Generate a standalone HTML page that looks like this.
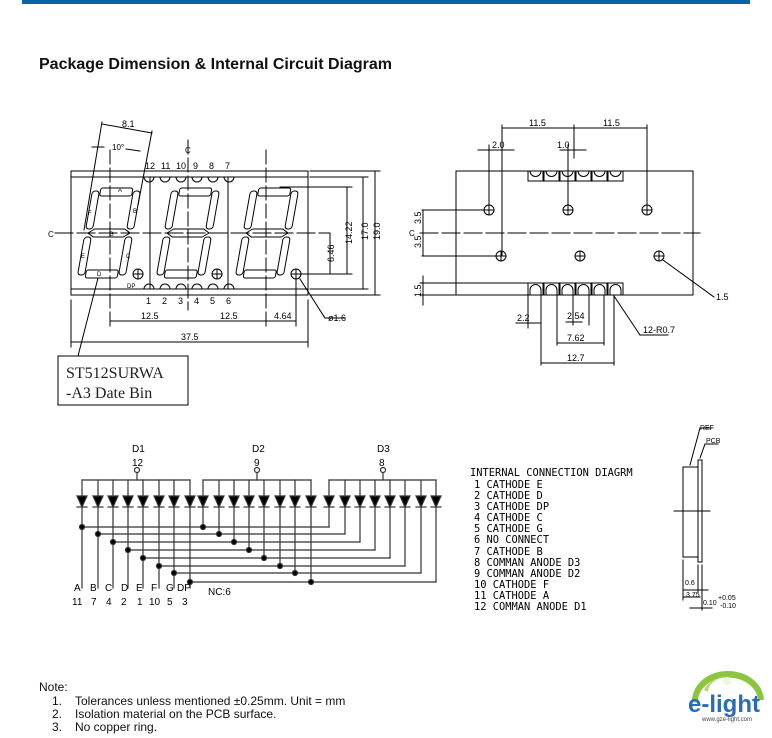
<!DOCTYPE html>
<html><head><meta charset="utf-8"><style>
html,body{margin:0;padding:0;background:#fff;width:772px;height:738px;overflow:hidden}
svg{display:block}
.t{font-family:"Liberation Sans",sans-serif}
.m{font-family:"DejaVu Sans Mono","Liberation Mono",monospace}
</style></head><body>
<svg id="s" width="772" height="738" viewBox="0 0 772 738" xmlns="http://www.w3.org/2000/svg" stroke-linecap="square">
<rect x="22" y="0" width="728" height="4" fill="#0a63a8"/>
<text x="39" y="69" class="t" font-size="16" font-weight="bold" fill="#111">Package Dimension &amp; Internal Circuit Diagram</text>

<g fill="none" stroke="#000" stroke-width="1">
<rect x="71" y="171" width="237" height="124"/>
<line x1="71" y1="177" x2="308" y2="177"/><line x1="71" y1="289" x2="308" y2="289"/>
<line x1="150" y1="177" x2="150" y2="289"/><line x1="228" y1="177" x2="228" y2="289"/>
<line x1="188" y1="140" x2="188" y2="310" stroke-dasharray="14,4"/>
<line x1="55" y1="233" x2="330" y2="233" stroke-dasharray="18,4"/>
<line x1="110" y1="150" x2="110" y2="330" stroke-dasharray="14,4"/>
<line x1="266" y1="150" x2="266" y2="330" stroke-dasharray="14,4"/>
<g id="dig"></g>
<g id="dp"></g>
<line x1="102" y1="124" x2="152" y2="133"/>
<line x1="102" y1="122" x2="84" y2="230"/><line x1="152" y1="131" x2="138" y2="205"/>
<line x1="92" y1="147" x2="104" y2="147"/><line x1="126" y1="149" x2="140" y2="151"/>
<line x1="280" y1="187" x2="352" y2="187"/><line x1="300" y1="274" x2="352" y2="274"/>
<line x1="310" y1="177" x2="368" y2="177"/><line x1="310" y1="289" x2="368" y2="289"/>
<line x1="310" y1="171" x2="380" y2="171"/><line x1="310" y1="295" x2="380" y2="295"/>
<line x1="347" y1="187" x2="347" y2="274"/><line x1="363" y1="177" x2="363" y2="289"/>
<line x1="375" y1="171" x2="375" y2="295"/><line x1="330" y1="233" x2="330" y2="274"/>
<line x1="110" y1="321" x2="296" y2="321"/><line x1="296" y1="280" x2="296" y2="326"/>
<line x1="71" y1="300" x2="71" y2="347"/><line x1="308" y1="300" x2="308" y2="347"/>
<line x1="71" y1="342" x2="308" y2="342"/>
<line x1="300" y1="279" x2="325" y2="318"/><line x1="325" y1="318" x2="345" y2="318"/>
<rect x="58" y="356" width="130" height="49"/>
<line x1="78" y1="356" x2="98" y2="278"/>
<rect x="456" y="171" width="237" height="124"/>
<line x1="420" y1="233" x2="700" y2="233" stroke-dasharray="18,4"/>
<g id="rn"></g>
<line x1="502" y1="128" x2="647" y2="128"/>
<line x1="502" y1="125" x2="502" y2="256"/><line x1="647" y1="125" x2="647" y2="210"/>
<line x1="574" y1="125" x2="574" y2="158"/>
<line x1="489" y1="145" x2="489" y2="210"/><line x1="568" y1="145" x2="568" y2="210"/>
<line x1="478" y1="150" x2="514" y2="150"/><line x1="560" y1="150" x2="586" y2="150"/>
<line x1="422" y1="210" x2="484" y2="210"/><line x1="422" y1="256" x2="496" y2="256"/>
<line x1="423" y1="210" x2="423" y2="256"/>
<line x1="420" y1="283" x2="528" y2="283"/><line x1="420" y1="295" x2="456" y2="295"/>
<line x1="423" y1="276" x2="423" y2="305"/>
<line x1="528" y1="295" x2="528" y2="328"/><line x1="541" y1="295" x2="541" y2="365"/>
<line x1="557" y1="295" x2="557" y2="345"/><line x1="573" y1="295" x2="573" y2="325"/>
<line x1="589" y1="295" x2="589" y2="325"/><line x1="604" y1="295" x2="604" y2="345"/>
<line x1="614" y1="295" x2="614" y2="365"/>
<line x1="516" y1="323" x2="541" y2="323"/><line x1="566" y1="322" x2="582" y2="322"/>
<line x1="557" y1="343" x2="604" y2="343"/><line x1="541" y1="363" x2="614" y2="363"/>
<line x1="614" y1="296" x2="640" y2="335"/><line x1="640" y1="335" x2="668" y2="335"/>
<line x1="663" y1="260" x2="714" y2="297"/>
<rect x="683" y="467" width="15" height="90"/>
<rect x="698" y="460" width="4" height="102"/>
<line x1="674" y1="511" x2="710" y2="511"/>
<line x1="690" y1="465" x2="700" y2="428"/><line x1="700" y1="428" x2="712" y2="428"/>
<line x1="700" y1="458" x2="705" y2="444"/><line x1="705" y1="444" x2="718" y2="444"/>
<line x1="683" y1="560" x2="683" y2="600"/><line x1="698" y1="565" x2="698" y2="592"/>
<line x1="702" y1="565" x2="702" y2="610"/>
<line x1="683" y1="590" x2="708" y2="590"/><line x1="683" y1="597" x2="700" y2="597"/>
<line x1="690" y1="608" x2="712" y2="608"/>
<g id="cir" stroke="#333" stroke-width="1.2"></g>
</g>

<g class="t" font-size="9" fill="#000">
<text x="122" y="127">8.1</text><text x="112" y="150" font-size="8">10°</text>
<text x="185" y="153" font-size="8">C</text><text x="48" y="237" font-size="8">C</text>
<text x="145" y="169">12</text><text x="161" y="169">11</text><text x="176" y="169">10</text><text x="193" y="169">9</text><text x="209" y="169">8</text><text x="225" y="169">7</text>
<text x="146" y="304">1</text><text x="162" y="304">2</text><text x="178" y="304">3</text><text x="194" y="304">4</text><text x="210" y="304">5</text><text x="226" y="304">6</text>
<text x="118" y="192" font-size="6">A</text><text x="133" y="213" font-size="6">B</text><text x="126" y="258" font-size="6">C</text><text x="97" y="276" font-size="6">D</text><text x="81" y="258" font-size="6">E</text><text x="88" y="215" font-size="6">F</text><text x="109" y="236" font-size="6">G</text><text x="127" y="288" font-size="6">DP</text>
<text transform="translate(352,244) rotate(-90)">14.22</text>
<text transform="translate(368,240) rotate(-90)">17.0</text>
<text transform="translate(380,240) rotate(-90)">19.0</text>
<text transform="translate(334,262) rotate(-90)">6.46</text>
<text x="141" y="319">12.5</text><text x="220" y="319">12.5</text><text x="274" y="319">4.64</text>
<text x="181" y="340">37.5</text><text x="328" y="321">ø1.6</text>
<text x="529" y="126">11.5</text><text x="603" y="126">11.5</text>
<text x="492" y="148">2.0</text><text x="557" y="148">1.0</text>
<text transform="translate(421,224) rotate(-90)">3.5</text><text transform="translate(421,248) rotate(-90)">3.5</text>
<text x="409" y="236" font-size="8">C</text>
<text transform="translate(421,297) rotate(-90)">1.5</text>
<text x="517" y="321">2.2</text><text x="567" y="319">2.54</text>
<text x="567" y="341">7.62</text><text x="567" y="361">12.7</text>
<text x="643" y="333">12-R0.7</text><text x="716" y="300">1.5</text>
<text x="700" y="430" font-size="7">REF</text><text x="706" y="443" font-size="7">PCB</text>
<text x="685" y="585" font-size="7">0.6</text><text x="686" y="597" font-size="7">3.75</text>
<text x="703" y="605" font-size="7">0.10</text><text x="718" y="600" font-size="7">+0.05</text><text x="720" y="608" font-size="7">-0.10</text>
</g>
<g class="t" font-size="10" fill="#000">
<text x="132" y="452">D1</text><text x="132" y="466">12</text>
<text x="252" y="452">D2</text><text x="254" y="466">9</text>
<text x="377" y="452">D3</text><text x="379" y="466">8</text>
<text x="74" y="591">A</text><text x="90" y="591">B</text><text x="105" y="591">C</text><text x="121" y="591">D</text><text x="136" y="591">E</text><text x="151" y="591">F</text><text x="166" y="591">G</text><text x="177" y="591">DP</text>
<text x="72" y="605">11</text><text x="91" y="605">7</text><text x="106" y="605">4</text><text x="121" y="605">2</text><text x="137" y="605">1</text><text x="149" y="605">10</text><text x="167" y="605">5</text><text x="182" y="605">3</text>
<text x="208" y="595">NC:6</text>
</g>
<g class="m" font-size="10.4" fill="#000">
<text x="470" y="476">INTERNAL CONNECTION DIAGRM</text>
<text x="474" y="488"> 1 CATHODE E</text>
<text x="474" y="499"> 2 CATHODE D</text>
<text x="474" y="510"> 3 CATHODE DP</text>
<text x="474" y="521"> 4 CATHODE C</text>
<text x="474" y="532"> 5 CATHODE G</text>
<text x="474" y="543"> 6 NO CONNECT</text>
<text x="474" y="555"> 7 CATHODE B</text>
<text x="474" y="566"> 8 COMMAN ANODE D3</text>
<text x="474" y="577"> 9 COMMAN ANODE D2</text>
<text x="474" y="588">10 CATHODE F</text>
<text x="474" y="599">11 CATHODE A</text>
<text x="474" y="610">12 COMMAN ANODE D1</text>
</g>
<g font-family="Times New Roman,'Liberation Serif',serif" font-size="16" fill="#222">
<text x="66" y="378">ST512SURWA</text><text x="66" y="398">-A3 Date Bin</text>
</g>
<g class="t" font-size="12" fill="#111">
<text x="39" y="691">Note:</text>
<text x="52" y="705">1.</text><text x="75" y="705">Tolerances unless mentioned ±0.25mm. Unit = mm</text>
<text x="52" y="718">2.</text><text x="75" y="718">Isolation material on the PCB surface.</text>
<text x="52" y="731">3.</text><text x="75" y="731">No copper ring.</text>
</g>
<path d="M692 702 A36 30 0 0 1 764 700 L758 700 A30 24 0 0 0 698 703 Z" fill="#8cc63f"/>
<path d="M704 690 A28 20 0 0 1 748 680 A24 16 0 0 0 708 692 Z" fill="#b5da6a"/>
<circle cx="727" cy="681" r="4" fill="#eef7d8"/>
<text x="688" y="712" class="t" font-size="24" font-weight="bold" fill="#2a6db5">e-light</text>
<text x="702" y="721" class="t" font-size="6" fill="#444">www.gze-light.com</text>
</svg>
<script>
var NS="http://www.w3.org/2000/svg";
function el(p,n,a){var e=document.createElementNS(NS,n);for(var k in a)e.setAttribute(k,a[k]);p.appendChild(e);return e;}
var dig=document.getElementById('dig');
[109,188,267].forEach(function(cx){
 var g=el(dig,'g',{transform:'translate('+cx+',233) skewX(-10)'});
 el(g,'rect',{x:-16,y:-45,width:32,height:8,rx:2});
 el(g,'rect',{x:-16,y:37,width:32,height:8,rx:2});
 el(g,'rect',{x:-24,y:-42,width:7,height:38,rx:3});
 el(g,'rect',{x:17,y:-42,width:7,height:38,rx:3});
 el(g,'rect',{x:-24,y:4,width:7,height:38,rx:3});
 el(g,'rect',{x:17,y:4,width:7,height:38,rx:3});
 el(g,'polygon',{points:'-21,0 -15,-4 15,-4 21,0 15,4 -15,4'});
});
var dp=document.getElementById('dp');
[138,217,296].forEach(function(x){el(dp,'circle',{cx:x,cy:274,r:5});el(dp,'line',{x1:x-5,y1:274,x2:x+5,y2:274});el(dp,'line',{x1:x,y1:269,x2:x,y2:279});});
for(var i=0;i<6;i++){var x=149+i*16;el(dp,'path',{d:'M'+(x-5)+' 177 A5 5 0 0 0 '+(x+5)+' 177'});el(dp,'path',{d:'M'+(x-5)+' 289 A5 5 0 0 1 '+(x+5)+' 289'});}
var rn=document.getElementById('rn');
for(var i=0;i<6;i++){var x=528+i*16;el(rn,'rect',{x:x,y:171,width:15,height:10});el(rn,'path',{d:'M'+(x+2)+' 171 A5.5 5.5 0 0 0 '+(x+13)+' 171'});
 el(rn,'rect',{x:x,y:283,width:15,height:12});el(rn,'path',{d:'M'+(x+2)+' 295 L'+(x+2)+' 290 A5.5 5.5 0 0 1 '+(x+13)+' 290 L'+(x+13)+' 295'});}
[[489,210],[568,210],[647,210],[501,256],[580,256],[659,256]].forEach(function(p){el(rn,'circle',{cx:p[0],cy:p[1],r:5});el(rn,'line',{x1:p[0]-5,y1:p[1],x2:p[0]+5,y2:p[1]});el(rn,'line',{x1:p[0],y1:p[1]-5,x2:p[0],y2:p[1]+5});});
var c=document.getElementById('cir');
var cols=[[82,98,113,128,143,159,174,190],[203,219,234,249,264,280,295,311],[329,345,360,375,390,405,421,436]];
var an=[137,257,383];
var rows=[527,534,542,550,558,566,573,582];
cols.forEach(function(cs,d){
 el(c,'line',{x1:cs[0],y1:480,x2:cs[7],y2:480});
 el(c,'line',{x1:an[d],y1:480,x2:an[d],y2:473});
 el(c,'circle',{cx:an[d],cy:470,r:2.5});
 cs.forEach(function(x,i){
  el(c,'line',{x1:x,y1:480,x2:x,y2:496});
  el(c,'polygon',{points:(x-5)+',496 '+(x+5)+',496 '+x+',507',fill:'#000'});
  el(c,'line',{x1:x-5,y1:507,x2:x+5,y2:507});
  var y2=d==0?588:rows[i];
  el(c,'line',{x1:x,y1:507,x2:x,y2:y2});
 });
});
for(var i=0;i<8;i++){
 el(c,'line',{x1:cols[0][i],y1:rows[i],x2:cols[2][i],y2:rows[i]});
 el(c,'circle',{cx:cols[0][i],cy:rows[i],r:2.5,fill:'#000'});
 el(c,'circle',{cx:cols[1][i],cy:rows[i],r:2.5,fill:'#000'});
}
</script>
</body></html>
